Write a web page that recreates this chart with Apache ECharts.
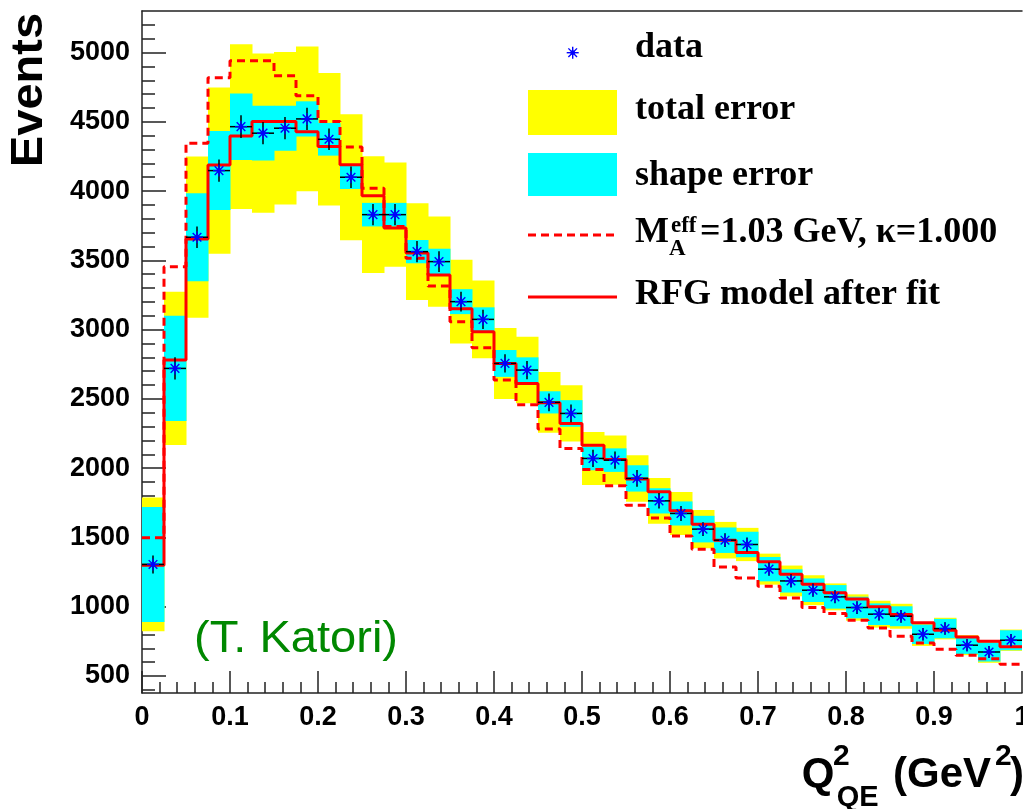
<!DOCTYPE html>
<html><head><meta charset="utf-8">
<script src="https://cdn.jsdelivr.net/npm/echarts@6/dist/echarts.min.js"></script>
<style>html,body{margin:0;padding:0;background:#fff}#c{width:1023px;height:809px}</style>
</head><body><div id="c"></div>
<script>
// ---- data ----
const binWidth = 0.025;
const binLow = [0,0.025,0.05,0.075,0.1,0.125,0.15,0.175,0.2,0.225,0.25,0.275,0.3,0.325,0.35,0.375,0.4,0.425,0.45,0.475,
                0.5,0.525,0.55,0.575,0.6,0.625,0.65,0.675,0.7,0.725,0.75,0.775,0.8,0.825,0.85,0.875,0.9,0.925,0.95,0.975];
const dataValues = [1305,2720,3667,4148,4465,4418,4454,4521,4374,4100,3830,3830,3563,3491,3202,3074,2756,2708,2475,2395,
                    2070,2058,1926,1764,1673,1560,1480,1449,1271,1186,1119,1071,994,946,931,801,842,722,673,758];
const statErr = [65,80,78,80,82,80,80,80,78,78,76,76,76,75,72,70,66,66,64,64,
                 62,62,60,56,54,50,50,50,48,48,48,47,46,46,46,45,45,44,44,44];
const shapeErr = [415,380,318,285,240,198,162,127,118,85,85,85,84,93,90,87,97,92,80,96,
                  85,85,95,91,87,96,92,92,88,84,85,85,78,78,72,70,70,63,69,72];
const totalErr = [483,553,582,600,595,575,550,523,478,455,421,376,349,325,303,280,256,240,219,203,
                  191,177,168,165,155,138,132,120,112,111,108,97,95,97,90,84,78,72,78,77];
const modelMA103 = [1497,3454,4346,4819,4940,4940,4832,4689,4502,4318,4020,3745,3515,3315,3057,2870,2636,2458,2282,2142,
                    1990,1873,1733,1641,1511,1415,1287,1208,1148,1063,994,950,902,847,787,738,693,649,625,584];
const modelFit = [1300,2780,3654,4189,4398,4502,4502,4429,4321,4190,3966,3733,3553,3395,3150,2985,2756,2612,2472,2323,
                  2166,2063,1921,1829,1692,1596,1480,1392,1324,1234,1162,1100,1056,999,943,885,830,782,750,710];
const yMajorTicks = [500,1000,1500,2000,2500,3000,3500,4000,4500,5000];
const yMinorTicks = [400,500,600,700,800,900,1000,1100,1200,1300,1400,1500,1600,1700,1800,1900,2000,2100,2200,2300,
                     2400,2500,2600,2700,2800,2900,3000,3100,3200,3300,3400,3500,3600,3700,3800,3900,4000,4100,4200,
                     4300,4400,4500,4600,4700,4800,4900,5000,5100,5200];

// ---- build series data ----
const bandTotal = binLow.map((x, i) => [x, x + binWidth, dataValues[i] - totalErr[i], dataValues[i] + totalErr[i]]);
const bandShape = binLow.map((x, i) => [x, x + binWidth, dataValues[i] - shapeErr[i], dataValues[i] + shapeErr[i]]);
const pts = binLow.map((x, i) => [x + binWidth / 2, dataValues[i], x, x + binWidth, statErr[i]]);
function stepData(vals) {
  const d = binLow.map((x, i) => [x, vals[i]]);
  d.push([binLow[binLow.length - 1] + binWidth, vals[vals.length - 1]]);
  return d;
}

const AX = '#222';
const BLUE = '#0000ff';
const RED = '#ff0000';

function bandRender(color) {
  return function (params, api) {
    const p0 = api.coord([api.value(0), api.value(3)]);
    const p1 = api.coord([api.value(1), api.value(2)]);
    return { type: 'rect', shape: { x: p0[0], y: p0[1], width: p1[0] - p0[0] + 0.5, height: p1[1] - p0[1] },
             style: { fill: color } };
  };
}
function asterisk(cx, cy, r) {
  const d = r * 0.72;
  const ls = { stroke: BLUE, lineWidth: 1.4 };
  return [
    { type: 'line', shape: { x1: cx - r, y1: cy, x2: cx + r, y2: cy }, style: ls },
    { type: 'line', shape: { x1: cx, y1: cy - r, x2: cx, y2: cy + r }, style: ls },
    { type: 'line', shape: { x1: cx - d, y1: cy - d, x2: cx + d, y2: cy + d }, style: ls },
    { type: 'line', shape: { x1: cx - d, y1: cy + d, x2: cx + d, y2: cy - d }, style: ls },
    { type: 'circle', shape: { cx: cx, cy: cy, r: 2.4 }, style: { fill: BLUE } }
  ];
}

const chart = echarts.init(document.getElementById('c'), null, { renderer: 'canvas' });
const tickFont = { fontSize: 27, fontWeight: 'bold', fontFamily: 'Liberation Sans, Arial, sans-serif', color: '#000' };

const option = {
  animation: false,
  backgroundColor: '#fff',
  grid: { left: 142, top: 11, width: 880, height: 682, outerBoundsMode: 'none', containLabel: false },
  xAxis: [
    { type: 'value', min: 0, max: 1, interval: 0.1, position: 'bottom',
      axisLine: { lineStyle: { color: AX, width: 1.5 } },
      axisTick: { inside: true, length: 22, lineStyle: { color: AX, width: 1.5 } },
      minorTick: { show: true, splitNumber: 5, length: 11, lineStyle: { color: AX, width: 1.5 } },
      splitLine: { show: false }, minorSplitLine: { show: false },
      axisLabel: Object.assign({ margin: 11, formatter: v => String(+(+v).toFixed(2)) }, tickFont) },
    { type: 'value', min: 0, max: 1, position: 'top',
      axisLine: { lineStyle: { color: AX, width: 1.5 } },
      axisTick: { show: false }, axisLabel: { show: false }, splitLine: { show: false } }
  ],
  yAxis: [
    { type: 'value', min: 377, max: 5300, position: 'left',
      axisLine: { show: true, lineStyle: { color: AX, width: 1.5 } },
      axisTick: { show: true, inside: true, length: 24, customValues: yMajorTicks, lineStyle: { color: AX, width: 1.5 } },
      axisLabel: Object.assign({ margin: 12, customValues: yMajorTicks, formatter: v => String(Math.round(v)) }, tickFont),
      splitLine: { show: false } },
    { type: 'value', min: 377, max: 5300, position: 'left',
      axisLine: { show: false },
      axisTick: { show: true, inside: true, length: 13, customValues: yMinorTicks, lineStyle: { color: AX, width: 1.5 } },
      axisLabel: { show: false }, splitLine: { show: false } }
  ],
  series: [
    { type: 'custom', name: 'total error', data: bandTotal, encode: { x: [0, 1], y: [2, 3] },
      renderItem: bandRender('#ffff00'), clip: true, z: 1 },
    { type: 'custom', name: 'shape error', data: bandShape, encode: { x: [0, 1], y: [2, 3] },
      renderItem: bandRender('#00ffff'), clip: true, z: 2 },
    { type: 'line', name: 'MA=1.03', data: stepData(modelMA103), step: 'end', symbol: 'none', z: 3,
      lineStyle: { color: RED, width: 3, type: [8, 5] } },
    { type: 'line', name: 'RFG fit', data: stepData(modelFit), step: 'end', symbol: 'none', z: 4,
      lineStyle: { color: RED, width: 3 } },
    { type: 'custom', name: 'data', data: pts, encode: { x: 0, y: 1 }, clip: true, z: 5,
      renderItem: function (params, api) {
        const v = api.value(1), e = api.value(4);
        const c = api.coord([api.value(0), v]);
        const l = api.coord([api.value(2), v]);
        const r = api.coord([api.value(3), v]);
        const t = api.coord([api.value(0), v + e]);
        const b = api.coord([api.value(0), v - e]);
        const blk = { stroke: '#000', lineWidth: 1.5 };
        return { type: 'group', children: [
          { type: 'line', shape: { x1: l[0], y1: c[1], x2: r[0], y2: c[1] }, style: blk },
          { type: 'line', shape: { x1: c[0], y1: t[1], x2: c[0], y2: b[1] }, style: blk }
        ].concat(asterisk(c[0], c[1], 6)) };
      } }
  ],
  graphic: [
    // y-axis title
    { type: 'text', x: 30, y: 90, rotation: Math.PI / 2, scaleX: 1.07,
      style: { text: 'Events', font: 'bold 44px "Liberation Sans", Arial, sans-serif', fill: '#000', align: 'center', verticalAlign: 'middle' } },
    // x-axis title
    { type: 'text', x: 801.7, y: 775.5, style: { text: 'Q', font: 'bold 42px "Liberation Sans", Arial', fill: '#000', align: 'left', verticalAlign: 'middle' } },
    { type: 'text', x: 833, y: 757, style: { text: '2', font: 'bold 30px "Liberation Sans", Arial', fill: '#000', align: 'left', verticalAlign: 'middle' } },
    { type: 'text', x: 836.7, y: 797.5, style: { text: 'QE', font: 'bold 29px "Liberation Sans", Arial', fill: '#000', align: 'left', verticalAlign: 'middle' } },
    { type: 'text', x: 893, y: 775.5, style: { text: '(GeV', font: 'bold 42px "Liberation Sans", Arial', fill: '#000', align: 'left', verticalAlign: 'middle' } },
    { type: 'text', x: 995, y: 757, style: { text: '2', font: 'bold 30px "Liberation Sans", Arial', fill: '#000', align: 'left', verticalAlign: 'middle' } },
    { type: 'text', x: 1010, y: 775.5, style: { text: ')', font: 'bold 42px "Liberation Sans", Arial', fill: '#000', align: 'left', verticalAlign: 'middle' } },
    // author note
    { type: 'text', x: 194, y: 640, scaleX: 1.07, style: { text: '(T. Katori)', font: '44px "Liberation Sans", Arial', fill: '#008800', align: 'left', verticalAlign: 'middle' } },
    // legend
    { type: 'group', children: asterisk(572.7, 52.7, 6) },
    { type: 'rect', shape: { x: 528, y: 90, width: 89, height: 45 }, style: { fill: '#ffff00' } },
    { type: 'rect', shape: { x: 528, y: 153, width: 89, height: 43 }, style: { fill: '#00ffff' } },
    { type: 'line', shape: { x1: 528, y1: 235, x2: 617, y2: 235 }, style: { stroke: RED, lineWidth: 3, lineDash: [8, 5] } },
    { type: 'line', shape: { x1: 528, y1: 297, x2: 617, y2: 297 }, style: { stroke: RED, lineWidth: 3 } },
    { type: 'text', x: 635, y: 48, style: { text: 'data', font: 'bold 36px "Liberation Serif", "Times New Roman", serif', fill: '#000', verticalAlign: 'middle' } },
    { type: 'text', x: 635, y: 109.5, style: { text: 'total error', font: 'bold 36px "Liberation Serif", "Times New Roman", serif', fill: '#000', verticalAlign: 'middle' } },
    { type: 'text', x: 635, y: 176, style: { text: 'shape error', font: 'bold 36px "Liberation Serif", "Times New Roman", serif', fill: '#000', verticalAlign: 'middle' } },
    { type: 'text', x: 635, y: 233, style: { text: 'M', font: 'bold 36px "Liberation Serif", "Times New Roman", serif', fill: '#000', verticalAlign: 'middle' } },
    { type: 'text', x: 671, y: 226, style: { text: 'eff', font: 'bold 23px "Liberation Serif", "Times New Roman", serif', fill: '#000', verticalAlign: 'middle' } },
    { type: 'text', x: 669, y: 249, style: { text: 'A', font: 'bold 23px "Liberation Serif", "Times New Roman", serif', fill: '#000', verticalAlign: 'middle' } },
    { type: 'text', x: 700, y: 233, style: { text: '=1.03 GeV, \u03ba=1.000', font: 'bold 36px "Liberation Serif", "Times New Roman", serif', fill: '#000', verticalAlign: 'middle' } },
    { type: 'text', x: 635, y: 294.5, style: { text: 'RFG model after fit', font: 'bold 36px "Liberation Serif", "Times New Roman", serif', fill: '#000', verticalAlign: 'middle' } }
  ]
};
chart.setOption(option);
</script></body></html>
